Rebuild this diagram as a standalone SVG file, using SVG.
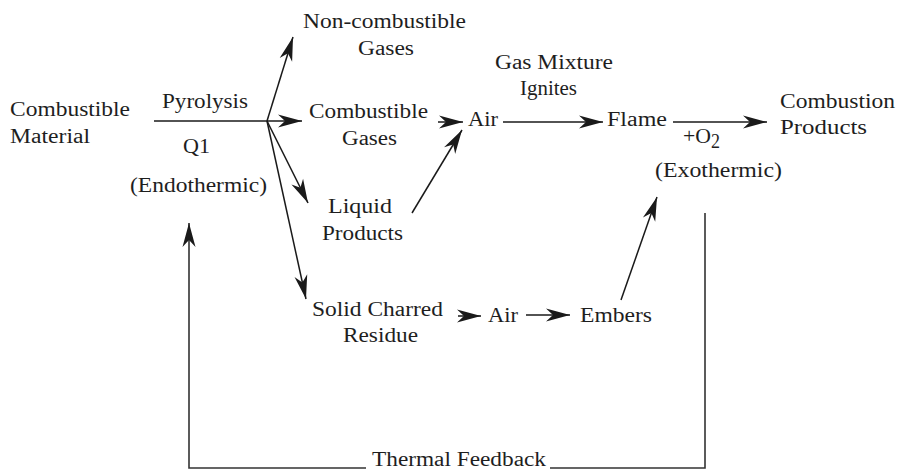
<svg xmlns="http://www.w3.org/2000/svg" width="899" height="471" viewBox="0 0 899 471">
<defs>
<style>
text{font-family:"Liberation Serif","Times New Roman",serif;font-size:20px;fill:#1e1e1e}
.c{stroke:#1a1a1a;stroke-width:1.5;fill:none}
.fb{stroke:#333;stroke-width:1.6;fill:none}
</style>
<marker id="ah" markerUnits="userSpaceOnUse" orient="auto" overflow="visible" refX="0" refY="0" markerWidth="1" markerHeight="1">
<path d="M0,0 L-24,-6.5 L-17,0 L-24,6.5 Z" fill="#1a1a1a"/>
</marker>
</defs>
<rect width="899" height="471" fill="#fff"/>
<g id="connectors">
<path class="c" d="M154,121 H267"/>
<path class="c" d="M267,121 L293,37" marker-end="url(#ah)"/>
<path class="c" d="M267,121 H302" marker-end="url(#ah)"/>
<path class="c" d="M267,121 L308,203" marker-end="url(#ah)"/>
<path class="c" d="M267,121 L306,299" marker-end="url(#ah)"/>
<path class="c" d="M438,122 H463" marker-end="url(#ah)"/>
<path class="c" d="M412,213 L462,130" marker-end="url(#ah)"/>
<path class="c" d="M503,122 H603" marker-end="url(#ah)"/>
<path class="c" d="M673,122 H767" marker-end="url(#ah)"/>
<path class="c" d="M458,316 H481" marker-end="url(#ah)"/>
<path class="c" d="M526,315 H570" marker-end="url(#ah)"/>
<path class="c" d="M621,300 L657,197" marker-end="url(#ah)"/>
<path class="fb" d="M705,213 V468 H189 V223" marker-end="url(#ah)"/>
<rect x="366" y="450" width="184" height="21" fill="#fff"/>
<text x="372" y="466" textLength="174" lengthAdjust="spacingAndGlyphs">Thermal Feedback</text>
<text x="162" y="108" textLength="86" lengthAdjust="spacingAndGlyphs">Pyrolysis</text>
<text x="183" y="153" textLength="27" lengthAdjust="spacingAndGlyphs">Q1</text>
<text x="130" y="192" textLength="137" lengthAdjust="spacingAndGlyphs">(Endothermic)</text>
<text x="495" y="69" textLength="118" lengthAdjust="spacingAndGlyphs">Gas Mixture</text>
<text x="520" y="95" textLength="57" lengthAdjust="spacingAndGlyphs">Ignites</text>
<text x="683" y="143" textLength="28" lengthAdjust="spacingAndGlyphs">+O</text>
<text x="711" y="148" font-size="14" textLength="9" lengthAdjust="spacingAndGlyphs">2</text>
<text x="655" y="177" textLength="127" lengthAdjust="spacingAndGlyphs">(Exothermic)</text>
</g>
<g id="combustible-material">
<text x="10" y="116" textLength="120" lengthAdjust="spacingAndGlyphs">Combustible</text>
<text x="10" y="143" textLength="80" lengthAdjust="spacingAndGlyphs">Material</text>
</g>
<g id="non-combustible-gases">
<text x="303" y="28" textLength="163" lengthAdjust="spacingAndGlyphs">Non-combustible</text>
<text x="358" y="55" textLength="56" lengthAdjust="spacingAndGlyphs">Gases</text>
</g>
<g id="combustible-gases">
<text x="309" y="118" textLength="119" lengthAdjust="spacingAndGlyphs">Combustible</text>
<text x="342" y="145" textLength="55" lengthAdjust="spacingAndGlyphs">Gases</text>
</g>
<g id="liquid-products">
<text x="328" y="213" textLength="64" lengthAdjust="spacingAndGlyphs">Liquid</text>
<text x="322" y="240" textLength="81" lengthAdjust="spacingAndGlyphs">Products</text>
</g>
<g id="solid-charred-residue">
<text x="312" y="316" textLength="131" lengthAdjust="spacingAndGlyphs">Solid Charred</text>
<text x="343" y="342" textLength="75" lengthAdjust="spacingAndGlyphs">Residue</text>
</g>
<g id="air-1">
<text x="468" y="126" textLength="30" lengthAdjust="spacingAndGlyphs">Air</text>
</g>
<g id="flame">
<text x="607" y="126" textLength="60" lengthAdjust="spacingAndGlyphs">Flame</text>
</g>
<g id="combustion-products">
<text x="780" y="108" textLength="115" lengthAdjust="spacingAndGlyphs">Combustion</text>
<text x="780" y="134" textLength="87" lengthAdjust="spacingAndGlyphs">Products</text>
</g>
<g id="air-2">
<text x="488" y="322" textLength="30" lengthAdjust="spacingAndGlyphs">Air</text>
</g>
<g id="embers">
<text x="580" y="322" textLength="72" lengthAdjust="spacingAndGlyphs">Embers</text>
</g>
</svg>
